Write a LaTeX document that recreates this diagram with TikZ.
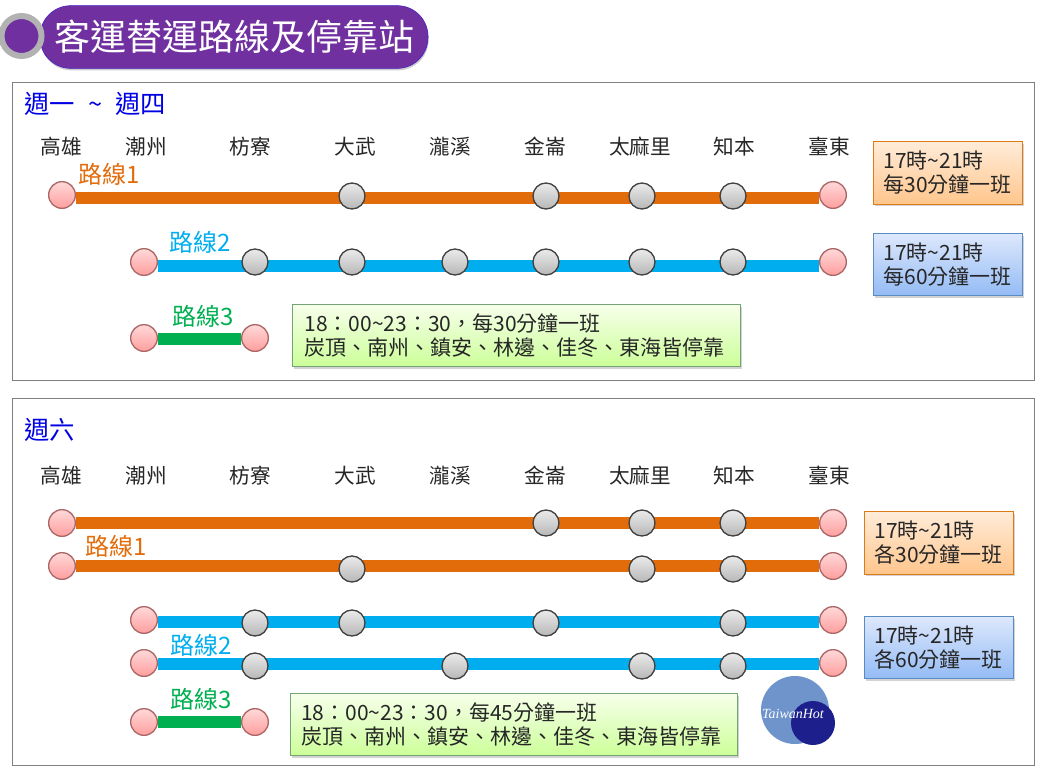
\documentclass[tikz,border=0pt]{standalone}
\usepackage{fontspec}
\setmainfont{Noto Sans CJK TC}
\newfontfamily\logofont{Liberation Serif}
\usetikzlibrary{shadows}
\definecolor{linePurple}{HTML}{7030A0}
\definecolor{lineOrange}{HTML}{E36C0A}
\definecolor{lineBlue}{HTML}{00AEEF}
\definecolor{lineGreen}{HTML}{00B050}
\definecolor{logoLight}{HTML}{6F94CC}
\definecolor{logoDark}{HTML}{1C1F8C}
\definecolor{boxBlueTop}{HTML}{DDE8FC}
\definecolor{boxBlueBottom}{HTML}{94BBF5}
\definecolor{boxBlueLine}{HTML}{5B8BC5}

\begin{document}
\begin{tikzpicture}[
        x=0.75pt, y=-0.75pt,
        panel/.style={draw=black!50, line width=1pt},
        stationname/.style={font=\fontsize{15.5}{18}\selectfont, text=black!85},
        routelabel/.style={font=\fontsize{18}{21}\selectfont},
        heading/.style={anchor=west, text=blue!90!black, font=\fontsize{19}{22}\selectfont, inner sep=0pt},
        routebar/.style={line width=9pt},
        stopdot/.style={circle, minimum size=19.5pt, inner sep=0pt, draw=black!75, line width=1pt, top color=black!8, bottom color=black!28},
        enddot/.style={circle, minimum size=20pt, inner sep=0pt, draw=red!45!black!60, line width=1pt, top color=red!15, bottom color=red!38},
        notebox/.style={draw, line width=0.8pt, align=left, anchor=north west, inner sep=0pt, inner xsep=7.5pt,
            font=\fontsize{15.75}{18}\selectfont, text=black!85, drop shadow={shadow xshift=1pt, shadow yshift=-1.5pt, opacity=0.35}},
        orangebox/.style={notebox, draw=orange!85!black!90, top color=orange!15, bottom color=orange!45, text width=97pt, minimum height=47pt},
        bluebox/.style={notebox, draw=boxBlueLine, top color=boxBlueTop, bottom color=boxBlueBottom, text width=97pt, minimum height=46.5pt},
        greenbox/.style={notebox, draw=green!35!black!55, top color=green!40!yellow!8, bottom color=green!50!yellow!40, text width=318pt, minimum height=46.5pt}
    ]
        \useasboundingbox (0,0) rectangle (1063,768);

        % --- Titulo ---
        \node[draw=blue!40!linePurple, fill=linePurple, rounded corners=23pt, minimum width=291pt, minimum height=47pt,
            text=white, font=\fontsize{27}{32}\selectfont, inner sep=0pt,
            drop shadow={shadow xshift=0.5pt, shadow yshift=-1.5pt, opacity=0.4}] (title) at (234,37) {客運替運路線及停靠站};
        \node[circle, draw=black!30, line width=4.5pt, fill=linePurple, minimum size=30pt, inner sep=0pt] (badge) at (21.5,36) {};

        % --- Marcos ---
        \node[panel, draw, anchor=north west, minimum width=766.5pt, minimum height=223.5pt, inner sep=0pt] (weekpanel) at (12,82) {};
        \node[panel, draw, anchor=north west, minimum width=766.5pt, minimum height=275pt, inner sep=0pt] (satpanel) at (12,398) {};
        \node[heading] (weekhead) at (24,104) {週一\hspace{10pt}\textasciitilde\hspace{10pt}週四};
        \node[heading] (sathead) at (24,430) {週六};

        % --- Estaciones ---
        \foreach \name/\x in {高雄/61,潮州/146,枋寮/250,大武/355,瀧溪/450,金崙/545,太麻里/640,知本/734,臺東/829} {
            \node[stationname] (w\x) at (\x,147) {\name};
            \node[stationname] (s\x) at (\x,476) {\name};
        }

        % --- Lunes a jueves ---
        \node[enddot] (wa) at (62,195) {};
        \node[enddot] (wb) at (833,195) {};
        \draw[routebar, lineOrange] ([yshift=-2pt]wa.east) -- ([yshift=-2pt]wb.west);
        \foreach \x in {352,546,642,733} \node[stopdot] (wr\x) at (\x,196) {};
        \node[routelabel, text=lineOrange] (wlabelA) at (109,174) {路線1};

        \node[enddot] (wc) at (144,262) {};
        \node[enddot] (wd) at (833,262) {};
        \draw[routebar, lineBlue] ([yshift=-3pt]wc.east) -- ([yshift=-3pt]wd.west);
        \foreach \x in {255,352,455,546,642,733} \node[stopdot] (wu\x) at (\x,262) {};
        \node[routelabel, text=lineBlue] (wlabelB) at (200,242) {路線2};

        \node[enddot] (we) at (144,338) {};
        \node[enddot] (wf) at (255,338) {};
        \draw[routebar, lineGreen] ([yshift=-1pt]we.east) -- ([yshift=-1pt]wf.west);
        \node[routelabel, text=lineGreen] (wlabelC) at (203,316) {路線3};

        \node[orangebox] (wnoteA) at (873,141) {17時\textasciitilde 21時\\每30分鐘一班};
        \node[bluebox] (wnoteB) at (873,233) {17時\textasciitilde 21時\\每60分鐘一班};
        \node[greenbox, inner xsep=9pt] (wnoteC) at (292,304) {18：00\textasciitilde 23：30，每30分鐘一班\\炭頂、南州、鎮安、林邊、佳冬、東海皆停靠};

        % --- Sabado ---
        \node[enddot] (sa) at (62,523) {};
        \node[enddot] (sb) at (833,523) {};
        \draw[routebar, lineOrange] (sa) -- (sb);
        \foreach \x in {546,642,733} \node[stopdot] (sr\x) at (\x,523) {};

        \node[enddot] (sc) at (62,566) {};
        \node[enddot] (sd) at (833,566) {};
        \draw[routebar, lineOrange] (sc) -- (sd);
        \foreach \x in {352,642,733} \node[stopdot] (st\x) at (\x,569) {};
        \node[routelabel, text=lineOrange] (slabelA) at (116,546) {路線1};

        \node[enddot] (se) at (144,620) {};
        \node[enddot] (sf) at (833,620) {};
        \draw[routebar, lineBlue] ([yshift=-1.5pt]se.east) -- ([yshift=-1.5pt]sf.west);
        \foreach \x in {255,352,546,733} \node[stopdot] (su\x) at (\x,623) {};

        \node[enddot] (sg) at (144,663) {};
        \node[enddot] (sh) at (833,663) {};
        \draw[routebar, lineBlue] ([yshift=-1pt]sg.east) -- ([yshift=-1pt]sh.west);
        \foreach \x in {255,455,642,733} \node[stopdot] (sv\x) at (\x,666) {};
        \node[routelabel, text=lineBlue] (slabelB) at (201,645) {路線2};

        \node[enddot] (si) at (144,722) {};
        \node[enddot] (sj) at (255,722) {};
        \draw[routebar, lineGreen] (si) -- (sj);
        \node[routelabel, text=lineGreen] (slabelC) at (201,699) {路線3};

        \node[orangebox] (snoteA) at (864,511) {17時\textasciitilde 21時\\各30分鐘一班};
        \node[bluebox] (snoteB) at (864,616) {17時\textasciitilde 21時\\各60分鐘一班};
        \node[greenbox, inner xsep=8pt, text width=319pt] (snoteC) at (290,693) {18：00\textasciitilde 23：30，每45分鐘一班\\炭頂、南州、鎮安、林邊、佳冬、東海皆停靠};

        % --- Logo ---
        \fill[logoLight] (795,710) circle (25.5pt);
        \fill[logoDark] (813,723) circle (16.5pt);
        \node[text=white, font=\logofont\itshape\fontsize{10.5}{12}\selectfont, inner sep=0pt] (logo) at (793,714) {TaiwanHot};
    \end{tikzpicture}
\end{document}
